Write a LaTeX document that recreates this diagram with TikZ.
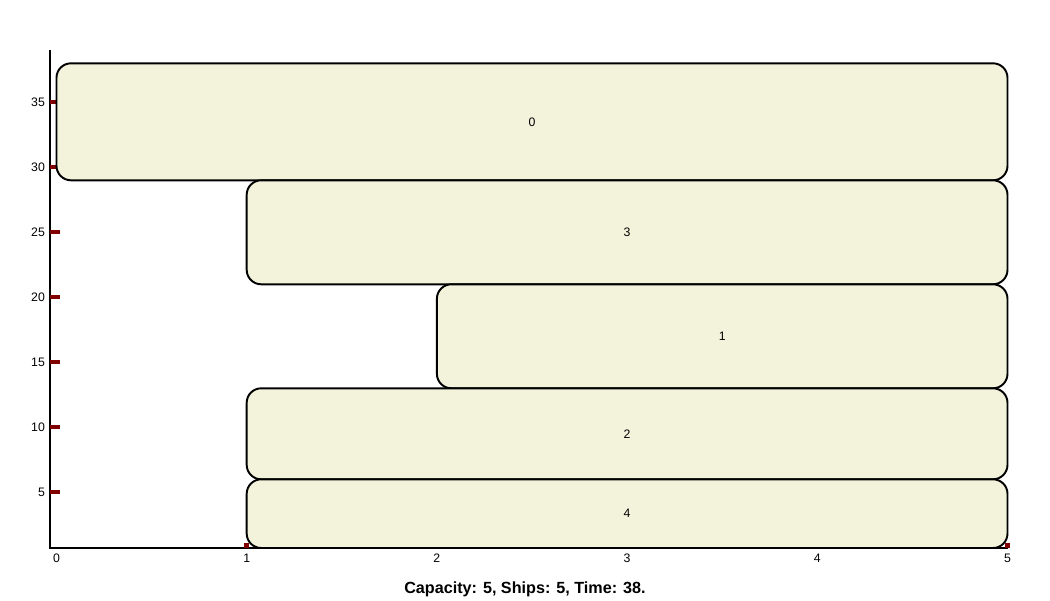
\documentclass[tikz,border=0pt]{standalone}
\usepackage{fontspec}
\setmainfont{Liberation Sans}
\usepackage{tikz}
\definecolor{berth}{RGB}{243,243,220}
\definecolor{tickred}{RGB}{128,0,0}
\tikzstyle{ship}=[draw=black,fill=berth,rounded corners=0.29cm,line width=1.1pt]
\tikzstyle{axis}=[draw=black,line width=1.1pt]
\tikzstyle{ticksq}=[fill=tickred]
\tikzstyle{lbl}=[font=\fontsize{7}{8}\selectfont,inner sep=1pt]
\tikzstyle{caption}=[font=\fontsize{9.2}{11}\selectfont\bfseries]

\begin{document}
\begin{tikzpicture}[x=3.804cm,y=0.26cm]
      \useasboundingbox (-0.297,-3.285) rectangle (5.2235,42.87);
      % axes
      \coordinate (ytop) at (-0.034,39.02);
      \coordinate (orig) at (-0.034,0.715);
      \coordinate (xend) at (5.003,0.715);
      \draw[axis] (ytop) -- (orig) -- (xend);
      \foreach \y in {5,10,...,35} {
        \fill[ticksq] (-0.034,\y-0.15) rectangle (0.018,\y+0.15);
        \node[lbl,anchor=east] (ylab\y) at (-0.05,\y) {\y};
      }
      \foreach \x in {0,...,5} {
        \node[lbl] (xlab\x) at (\x,-0.05) {\x};
      }
      \foreach \x in {1,...,5} {
        \fill[ticksq] (\x-0.013,0.715) rectangle (\x+0.013,1.1);
      }
      % ships
      \draw[ship] (0,29) rectangle (5,38);
      \node[lbl] (ship0) at (2.5,33.5) {0};
      \draw[ship] (1,21) rectangle (5,29);
      \node[lbl] (ship3) at (3,25) {3};
      \draw[ship] (2,13) rectangle (5,21);
      \node[lbl] (ship1) at (3.5,17) {1};
      \draw[ship] (1,6) rectangle (5,13);
      \node[lbl] (ship2) at (3,9.5) {2};
      \draw[ship] (1,0.715) rectangle (5,6);
      \node[lbl] (ship4) at (3,3.35) {4};
      \node[caption] (title) at (2.463,-2.44) {Capacity: 5, Ships: 5, Time: 38.};
\end{tikzpicture}
\end{document}
